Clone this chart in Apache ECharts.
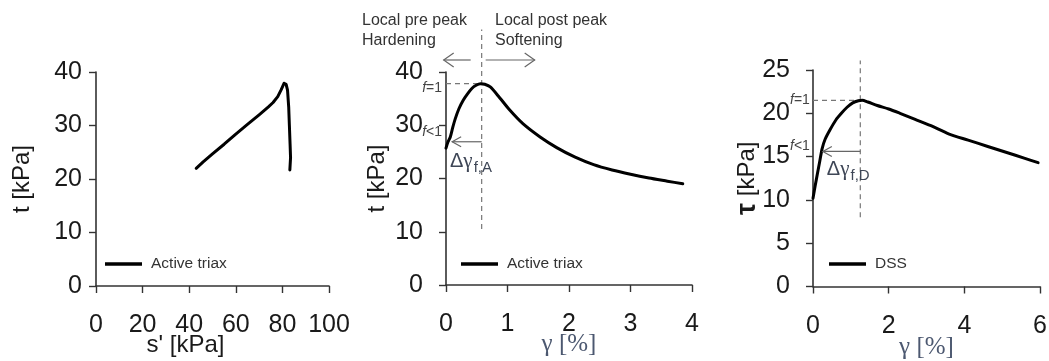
<!DOCTYPE html>
<html>
<head>
<meta charset="utf-8">
<title>Stress paths and stress-strain curves</title>
<script src="https://cdn.jsdelivr.net/npm/echarts@6/dist/echarts.min.js"></script>
<style>
  html, body { margin: 0; padding: 0; background: #fff; }
  #chart { width: 1049px; height: 361px; }
</style>
</head>
<body>
<div id="chart"></div>
<script>
// ---- Panel 1: stress path, active triaxial test ----
const triaxPathS = [43, 46, 50, 55, 60, 65, 70, 74, 76, 78, 79.5, 80.7, 81.6, 82.2, 82.7, 83.0, 83.3, 83.5, 83.2];
const triaxPathT = [22.0, 23.2, 24.7, 26.5, 28.4, 30.2, 32.0, 33.5, 34.3, 35.4, 36.7, 37.9, 37.7, 36.6, 33.5, 30.0, 26.5, 24.0, 21.7];

// ---- Panel 2: t versus shear strain, active triaxial test ----
const triaxGamma = [0.0, 0.03, 0.07, 0.11, 0.15, 0.21, 0.28, 0.35, 0.42, 0.49, 0.56, 0.63, 0.72, 0.85, 1.04, 1.25, 1.53, 1.8, 2.1, 2.4, 2.7, 3.0, 3.3, 3.6, 3.85];
const triaxT     = [25.7, 26.8, 27.8, 29.6, 31.2, 33.1, 34.7, 35.9, 36.9, 37.5, 37.8, 37.7, 37.2, 35.5, 32.8, 30.3, 27.8, 25.8, 24.0, 22.6, 21.6, 20.8, 20.1, 19.5, 19.0];

// ---- Panel 3: tau versus shear strain, direct simple shear ----
const dssGamma = [0.0, 0.06, 0.12, 0.18, 0.24, 0.32, 0.45, 0.6, 0.75, 0.9, 1.05, 1.2, 1.3, 1.45, 1.7, 2.0, 2.3, 2.7, 3.1, 3.6, 4.1, 4.6, 5.1, 5.6, 5.95];
const dssTau   = [10.2, 11.7, 13.1, 14.5, 15.9, 17.0, 18.1, 19.2, 20.0, 20.7, 21.2, 21.45, 21.5, 21.3, 20.9, 20.5, 20.0, 19.3, 18.6, 17.6, 16.9, 16.2, 15.5, 14.8, 14.3];

// ---- Peak markers and strain offsets ----
const triaxPeak = [0.58, 37.8];      // gamma, t at f = 1
const triaxGuideT = [10.5, 48];      // vertical guide extent
const triaxArrow = [26.9, 0.1];      // t level (f < 1), arrow tip gamma
const dssPeak = [1.25, 21.5];        // gamma, tau at f = 1
const dssGuideTau = [8.0, 26.1];
const dssArrow = [15.6, 0.26];

// ---- Axis ranges / ticks ----
const axisS = { min: 0, max: 100, interval: 20 };
const axisT = { min: 0, max: 40, interval: 10 };
const axisGammaTriax = { min: 0, max: 4, interval: 1 };
const axisGammaDss = { min: 0, max: 6, interval: 2 };
const axisTau = { min: 0, max: 25, interval: 5 };

const legendTriax = 'Active triax';
const legendDss = 'DSS';

const zip = (a, b) => a.map((v, i) => [v, b[i]]);

const SANS = '"Liberation Sans", Arial, sans-serif';
const SERIF = '"Liberation Serif", "Times New Roman", serif';
const AXIS_COLOR = '#333';
const GUIDE_COLOR = '#777';
const TICK_FONT = 25;

function valueAxis(range, gridIndex, extra) {
  return Object.assign({
    type: 'value',
    gridIndex: gridIndex,
    min: range.min,
    max: range.max,
    interval: range.interval,
    nameMoveOverlap: false,
    axisLine: { show: true, onZero: false, lineStyle: { color: AXIS_COLOR, width: 1.6 } },
    axisTick: { show: true, length: 7, lineStyle: { color: AXIS_COLOR, width: 1.4 } },
    splitLine: { show: false },
    axisLabel: { color: '#1a1a1a', fontSize: TICK_FONT, fontFamily: SANS },
    nameLocation: 'middle',
    nameTextStyle: { color: '#1a1a1a', fontSize: 24, fontFamily: SANS }
  }, extra);
}

const chart = echarts.init(document.getElementById('chart'), null, { renderer: 'canvas' });

const guideLine = { color: GUIDE_COLOR, width: 1.2, type: [5, 4] };
const arrowLine = { color: '#666', width: 1.2 };

const option = {
  animation: false,
  backgroundColor: '#fff',
  grid: [
    { left: 96, top: 72, width: 233, height: 214 },
    { left: 446, top: 72, width: 246, height: 213 },
    { left: 813, top: 70, width: 227, height: 216.5 }
  ].map(g => Object.assign({ containLabel: false, outerBoundsMode: 'none' }, g)),
  xAxis: [
    valueAxis(axisS, 0, {
      name: "s' [kPa]", nameGap: 47,
      axisLabel: { color: '#1a1a1a', fontSize: TICK_FONT, fontFamily: SANS, margin: 27 },
      nameTextStyle: { color: '#1a1a1a', fontSize: 24, fontFamily: SANS, padding: [0, 54, 0, 0] }
    }),
    valueAxis(axisGammaTriax, 1, {
      name: 'γ [%]', nameGap: 47,
      axisLabel: { color: '#1a1a1a', fontSize: TICK_FONT, fontFamily: SANS, margin: 27 },
      nameTextStyle: { color: '#4c5870', fontSize: 25, fontFamily: SERIF }
    }),
    valueAxis(axisGammaDss, 2, {
      name: 'γ [%]', nameGap: 48,
      axisLabel: { color: '#1a1a1a', fontSize: TICK_FONT, fontFamily: SANS, margin: 27 },
      nameTextStyle: { color: '#4c5870', fontSize: 25, fontFamily: SERIF }
    })
  ],
  yAxis: [
    valueAxis(axisT, 0, {
      name: 't [kPa]', nameGap: 62,
      axisLabel: { color: '#1a1a1a', fontSize: TICK_FONT, fontFamily: SANS, margin: 14 }
    }),
    valueAxis(axisT, 1, {
      name: 't [kPa]', nameGap: 57,
      axisLabel: { color: '#1a1a1a', fontSize: TICK_FONT, fontFamily: SANS, margin: 23 }
    }),
    valueAxis(axisTau, 2, {
      name: '{g|τ} [kPa]', nameGap: 52,
      axisLabel: { color: '#1a1a1a', fontSize: TICK_FONT, fontFamily: SANS, margin: 23 },
      nameTextStyle: {
        color: '#1a1a1a', fontSize: 24, fontFamily: SANS,
        rich: { g: { fontSize: 27, fontWeight: 'bold', fontFamily: SANS, color: '#1a1a1a' } }
      }
    })
  ],
  legend: [
    { left: 105, top: 256, data: [legendTriax] },
    { left: 461, top: 256, data: [legendTriax] },
    { left: 829, top: 256, data: [legendDss] }
  ].map(l => Object.assign({
    orient: 'horizontal', padding: 0, icon: 'rect', itemWidth: 37, itemHeight: 3.5,
    selectedMode: false,
    textStyle: { color: '#333', fontSize: 15.5, fontFamily: SANS, padding: [0, 0, 0, 4] }
  }, l)),
  series: [
    {
      name: legendTriax, type: 'line', xAxisIndex: 0, yAxisIndex: 0,
      data: zip(triaxPathS, triaxPathT), showSymbol: false, symbol: 'none',
      color: '#000', lineStyle: { color: '#000', width: 3, join: 'round', cap: 'round' }
    },
    {
      name: legendTriax, type: 'line', xAxisIndex: 1, yAxisIndex: 1,
      data: zip(triaxGamma, triaxT), showSymbol: false, symbol: 'none', smooth: 0.25,
      color: '#000', lineStyle: { color: '#000', width: 3, join: 'round', cap: 'round' }
    },
    {
      name: legendDss, type: 'line', xAxisIndex: 2, yAxisIndex: 2,
      data: zip(dssGamma, dssTau), showSymbol: false, symbol: 'none', smooth: 0.25,
      color: '#000', lineStyle: { color: '#000', width: 3, join: 'round', cap: 'round' }
    },
    // peak guides, triaxial
    {
      name: 'triax peak strain', type: 'line', xAxisIndex: 1, yAxisIndex: 1, clip: false, silent: true,
      data: [[triaxPeak[0], triaxGuideT[0]], [triaxPeak[0], triaxGuideT[1]]],
      symbol: 'none', lineStyle: guideLine, z: 1
    },
    {
      name: 'triax peak stress', type: 'line', xAxisIndex: 1, yAxisIndex: 1, clip: false, silent: true,
      data: [[0, triaxPeak[1]], [triaxPeak[0], triaxPeak[1]]],
      symbol: 'none', lineStyle: guideLine, z: 1
    },
    {
      name: 'triax strain offset', type: 'line', xAxisIndex: 1, yAxisIndex: 1, clip: false, silent: true,
      data: [[triaxPeak[0], triaxArrow[0]], [triaxArrow[1], triaxArrow[0]]],
      symbol: 'none', lineStyle: arrowLine, z: 1
    },
    // peak guides, DSS
    {
      name: 'dss peak strain', type: 'line', xAxisIndex: 2, yAxisIndex: 2, clip: false, silent: true,
      data: [[dssPeak[0], dssGuideTau[0]], [dssPeak[0], dssGuideTau[1]]],
      symbol: 'none', lineStyle: guideLine, z: 1
    },
    {
      name: 'dss peak stress', type: 'line', xAxisIndex: 2, yAxisIndex: 2, clip: false, silent: true,
      data: [[0, dssPeak[1]], [dssPeak[0], dssPeak[1]]],
      symbol: 'none', lineStyle: guideLine, z: 1
    },
    {
      name: 'dss strain offset', type: 'line', xAxisIndex: 2, yAxisIndex: 2, clip: false, silent: true,
      data: [[dssPeak[0], dssArrow[0]], [dssArrow[1], dssArrow[0]]],
      symbol: 'none', lineStyle: arrowLine, z: 1
    }
  ]
};

chart.setOption(option);

// ---- Arrowheads and annotations placed from axis coordinates ----
function head(tip, dir, len, half, color, width) {
  return {
    type: 'polyline', silent: true, z: 10,
    shape: { points: [[tip[0] - dir * len, tip[1] - half], tip, [tip[0] - dir * len, tip[1] + half]] },
    style: { stroke: color, lineWidth: width, fill: null }
  };
}
function hline(x1, x2, y, color, width) {
  return { type: 'line', silent: true, z: 10, shape: { x1: x1, y1: y, x2: x2, y2: y }, style: { stroke: color, lineWidth: width } };
}

const fRich = {
  i: { fontStyle: 'italic', fontSize: 14, fontFamily: SANS, fill: '#444' },
  n: { fontSize: 14, fontFamily: SANS, fill: '#444' }
};
const dRich = {
  d: { fontSize: 20, fontFamily: SANS, fill: '#3e4656' },
  g: { fontSize: 21, fontFamily: SERIF, fill: '#3e4656' },
  s: { fontSize: 15, fontFamily: SANS, fill: '#3e4656', padding: [12, 0, 0, 1] }
};

const tA = chart.convertToPixel({ gridIndex: 1 }, [triaxArrow[1], triaxArrow[0]]);
const pA = chart.convertToPixel({ gridIndex: 1 }, triaxPeak);
const oA = chart.convertToPixel({ gridIndex: 1 }, [0, triaxArrow[0]]);
const tD = chart.convertToPixel({ gridIndex: 2 }, [dssArrow[1], dssArrow[0]]);
const pD = chart.convertToPixel({ gridIndex: 2 }, dssPeak);
const oD = chart.convertToPixel({ gridIndex: 2 }, [0, dssPeak[1]]);

const topArrowY = 60;

chart.setOption({
  graphic: [
    // strain offset arrowheads
    head(tA, -1, 9, 5, '#666', 1.2),
    head(tD, -1, 9, 5, '#666', 1.2),
    // hardening / softening direction arrows above the peak
    hline(pA[0] - 11, pA[0] - 38, topArrowY, '#666', 1.2),
    head([pA[0] - 38, topArrowY], -1, 10, 7, '#666', 1.2),
    hline(pA[0] + 4, pA[0] + 53, topArrowY, '#666', 1.2),
    head([pA[0] + 53, topArrowY], 1, 10, 7, '#666', 1.2),
    {
      type: 'text', silent: true, z: 10, x: 362, y: 11,
      style: { text: 'Local pre peak\nHardening', font: '16px ' + SANS, fill: '#333', lineHeight: 20 }
    },
    {
      type: 'text', silent: true, z: 10, x: 495, y: 11,
      style: { text: 'Local post peak\nSoftening', font: '16px ' + SANS, fill: '#333', lineHeight: 20 }
    },
    // mobilisation level labels
    { type: 'text', silent: true, z: 10, x: oA[0] - 4, y: pA[1] + 4,
      style: { text: '{i|f}{n|=1}', rich: fRich, align: 'right', verticalAlign: 'middle' } },
    { type: 'text', silent: true, z: 10, x: oA[0] - 4, y: oA[1] - 10,
      style: { text: '{i|f}{n|<1}', rich: fRich, align: 'right', verticalAlign: 'middle' } },
    { type: 'text', silent: true, z: 10, x: oD[0] - 23, y: pD[1],
      style: { text: '{i|f}{n|=1}', rich: fRich, align: 'left', verticalAlign: 'middle' } },
    { type: 'text', silent: true, z: 10, x: oD[0] - 23, y: tD[1] - 5,
      style: { text: '{i|f}{n|<1}', rich: fRich, align: 'left', verticalAlign: 'middle' } },
    // strain offset labels
    { type: 'text', silent: true, z: 10, x: oA[0] + 4, y: tA[1] + 20,
      style: { text: '{d|Δ}{g|γ}{s|f,A}', rich: dRich, align: 'left', verticalAlign: 'middle' } },
    { type: 'text', silent: true, z: 10, x: tD[0] + 4, y: tD[1] + 18,
      style: { text: '{d|Δ}{g|γ}{s|f,D}', rich: dRich, align: 'left', verticalAlign: 'middle' } }
  ]
});
</script>
</body>
</html>
